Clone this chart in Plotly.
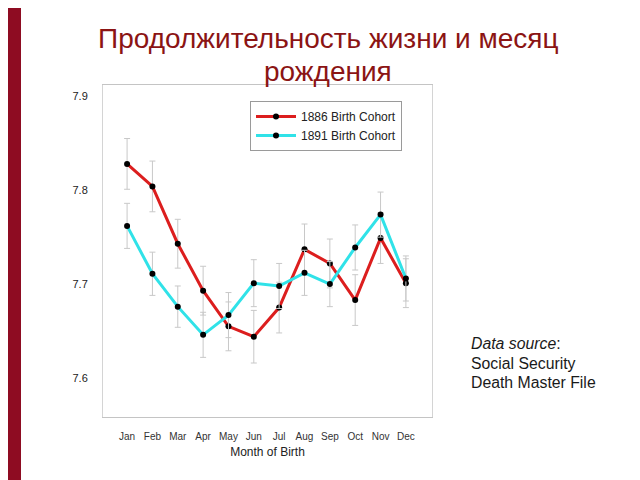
import plotly.graph_objects as go

# data
months = ["Jan", "Feb", "Mar", "Apr", "May", "Jun",
          "Jul", "Aug", "Sep", "Oct", "Nov", "Dec"]
cohort_1886 = [7.828, 7.804, 7.743, 7.693, 7.655, 7.644,
               7.675, 7.737, 7.722, 7.683, 7.749, 7.701]
err_1886 = [0.027, 0.027, 0.026, 0.026, 0.026, 0.028,
            0.027, 0.027, 0.026, 0.027, 0.027, 0.026]
cohort_1891 = [7.762, 7.711, 7.676, 7.646, 7.667, 7.701,
               7.698, 7.712, 7.700, 7.739, 7.774, 7.706]
err_1891 = [0.024, 0.023, 0.022, 0.024, 0.024, 0.025,
            0.024, 0.024, 0.024, 0.024, 0.024, 0.024]
y_ticks = [7.6, 7.7, 7.8, 7.9]
y_labels = ["7.6", "7.7", "7.8", "7.9"]

# page body has an 8px margin, so the figure itself starts at (8, 8)
OFF = 8
W, H = 640 - OFF, 480 - OFF
L, R, T, B = 103, 432, 85, 417   # plot area in window pixels


def px(x):
    return (x - L) / (R - L)


def py(y):
    return (B - y) / (B - T)


fig = go.Figure()

series = [
    ("1886 Birth Cohort", cohort_1886, err_1886, "#dc1e1e"),
    ("1891 Birth Cohort", cohort_1891, err_1891, "#30e2e8"),
]
for name, vals, err, col in series:
    fig.add_trace(go.Scatter(
        x=list(range(len(months))), y=vals, name=name,
        mode="lines+markers",
        line=dict(color=col, width=3),
        marker=dict(color="black", size=6),
        error_y=dict(type="data", array=err, color="#c8c8c8",
                     thickness=1, width=3),
    ))

fig.update_xaxes(
    range=[-0.95, 12.03], tickvals=list(range(len(months))), ticktext=months,
    showgrid=False, zeroline=False, showline=True, mirror=True,
    linecolor="#c4c4c4", linewidth=1, ticks="", ticklabelstandoff=10,
    tickfont=dict(family="Liberation Sans, Arial", size=10, color="#333"),
    title=dict(text="Month of Birth", standoff=6,
               font=dict(family="Liberation Sans, Arial", size=12, color="#222")),
)
fig.update_yaxes(
    range=[7.5585, 7.912], tickvals=y_ticks, ticktext=y_labels,
    showgrid=False, zeroline=False, showline=True, mirror=True,
    linecolor="#d4d4d4", linewidth=1, ticks="", ticklabelstandoff=12,
    tickfont=dict(family="Liberation Sans, Arial", size=11, color="#222"),
)

# dark red bar on the slide's left edge
fig.add_shape(type="rect", xref="paper", yref="paper",
              x0=px(OFF), x1=px(21), y0=py(480), y1=py(OFF),
              fillcolor="#8e0c22", line=dict(width=0), layer="below")

ann_font = dict(family="Liberation Sans, Arial", size=15.8, color="#1a1a1a")
title_font = dict(family="Liberation Sans, Arial", size=28, color="#8b1414")
annotations = [
    dict(text="Продолжительность жизни и месяц", x=px(328), y=py(38),
         font=title_font),
    dict(text="рождения", x=px(328), y=py(72), font=title_font),
    dict(text="<i>Data source</i>:", x=px(469), y=py(343), xanchor="left",
         font=ann_font),
    dict(text="Social Security", x=px(469), y=py(363), xanchor="left",
         font=ann_font),
    dict(text="Death Master File", x=px(469), y=py(382), xanchor="left",
         font=ann_font),
]
for a in annotations:
    a.setdefault("xanchor", "center")
    fig.add_annotation(xref="paper", yref="paper", yanchor="middle",
                       showarrow=False, **a)

fig.update_layout(
    width=W, height=H,
    margin=dict(l=L - OFF, r=640 - R, t=T - OFF, b=480 - B),
    paper_bgcolor="white", plot_bgcolor="white",
    showlegend=True,
    legend=dict(x=px(250), y=py(101), xanchor="left", yanchor="top",
                bordercolor="#9a9a9a", borderwidth=1, bgcolor="white",
                font=dict(family="Liberation Sans, Arial", size=12, color="#222"),
                tracegroupgap=0, itemwidth=40),
)

fig.write_html("out.html")
